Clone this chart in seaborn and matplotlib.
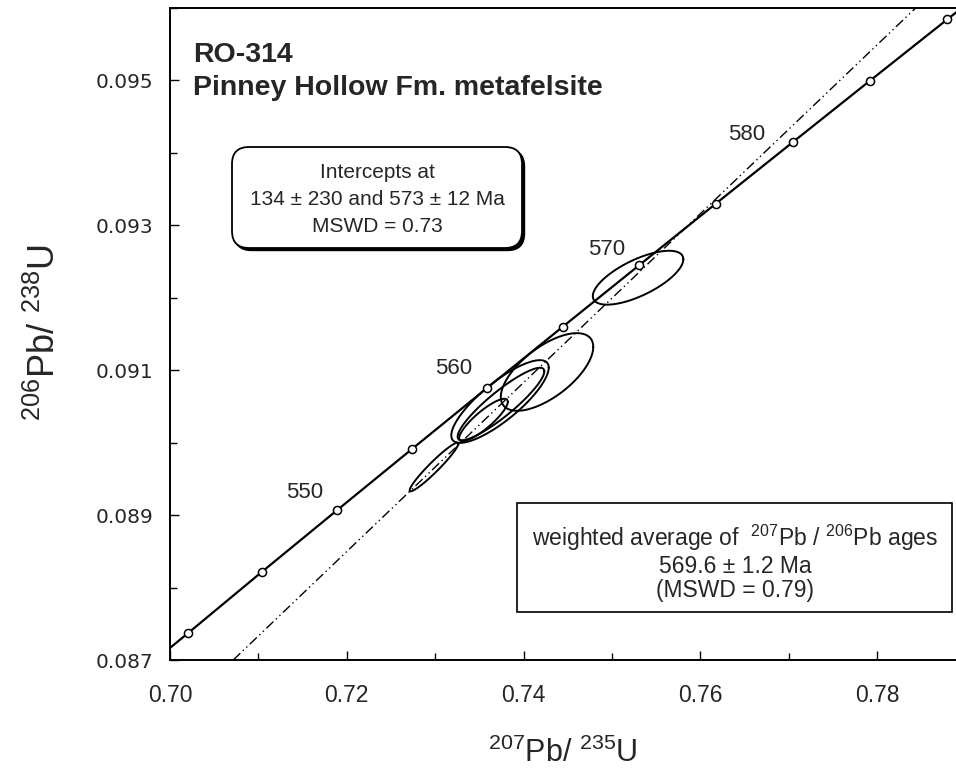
import numpy as np
import pandas as pd
import matplotlib
matplotlib.use("Agg")
import matplotlib.pyplot as plt
import seaborn as sns
from matplotlib.patches import FancyBboxPatch, Rectangle
from matplotlib.ticker import MultipleLocator, FixedFormatter, FixedLocator

# ---------------- data ----------------
# concordia points (age in Ma, 207Pb/235U, 206Pb/238U)
conc_age = [535, 540, 545, 550, 555, 560, 565, 570, 575, 580, 585, 590, 595]
conc_x = [0.69367, 0.70209, 0.71043, 0.71887, 0.72735, 0.73588, 0.74445,
          0.75307, 0.76172, 0.77042, 0.77916, 0.78794, 0.79678]
conc_y = [0.086533, 0.087376, 0.088220, 0.089065, 0.089910, 0.090756, 0.091602,
          0.092449, 0.093297, 0.094145, 0.094994, 0.095844, 0.096695]
label_ages = [550, 560, 570, 580]

# discordia through lower / upper intercepts (134 Ma, 573 Ma)
disc_age = [134, 573]
disc_x = [0.14107, 0.75825]
disc_y = [0.021005, 0.092957]

# analyses: error ellipses (centre, half-extent x, half-extent y, error correlation)
ell_x = [0.75295, 0.74265, 0.73733, 0.73744, 0.73546, 0.72986]
ell_ex = [0.005122, 0.005230, 0.005511, 0.004900, 0.002752, 0.002749]
ell_y = [0.092277, 0.090976, 0.090568, 0.090534, 0.090313, 0.089664]
ell_ey = [0.000372, 0.000536, 0.000571, 0.000500, 0.000293, 0.000335]
ell_rho = [0.683, 0.644, 0.818, 0.900, 0.860, 0.958]

x_ticks = [0.70, 0.72, 0.74, 0.76, 0.78]
x_ticklabels = ["0.70", "0.72", "0.74", "0.76", "0.78"]
y_ticks = [0.087, 0.089, 0.091, 0.093, 0.095]
y_ticklabels = ["0.087", "0.089", "0.091", "0.093", "0.095"]

# ---------------- style ----------------
sns.set_theme(style="white")
plt.rcParams['font.family'] = ['Liberation Sans', 'DejaVu Sans']
plt.rcParams['mathtext.fontset'] = 'custom'
plt.rcParams['mathtext.rm'] = 'Liberation Sans'
plt.rcParams['mathtext.it'] = 'Liberation Sans:italic'
plt.rcParams['mathtext.bf'] = 'Liberation Sans:bold'

W, H = 956, 770
fig = plt.figure(figsize=(W / 100, H / 100), dpi=100)
ax = fig.add_axes([170 / W, (H - 660) / H, (W - 170) / W, 652 / H])

def pin(x, y):
    return x / 100.0, (H - y) / 100.0

# ellipses
t = np.linspace(0, 2 * np.pi, 241)
rows = []
for i, (cx, ex, cy, ey, r) in enumerate(zip(ell_x, ell_ex, ell_y, ell_ey, ell_rho)):
    xs = cx + ex * np.cos(t)
    ys = cy + ey * (r * np.cos(t) + np.sqrt(1 - r * r) * np.sin(t))
    rows.append(pd.DataFrame({"id": i, "x": xs, "y": ys}))
ell_df = pd.concat(rows, ignore_index=True)
sns.lineplot(data=ell_df, x="x", y="y", units="id", estimator=None, sort=False,
             color="black", lw=1.4, ax=ax, legend=False, zorder=3)

# discordia
ax.axline((disc_x[0], disc_y[0]), (disc_x[1], disc_y[1]), color="black", lw=1.0,
          linestyle=(0, (7, 2.5, 1, 2.5, 1, 2.5)), zorder=2)

# concordia
conc_df = pd.DataFrame({"age": conc_age, "x": conc_x, "y": conc_y})
sns.lineplot(data=conc_df, x="x", y="y", sort=False, color="black", lw=1.6, ax=ax,
             zorder=4)
sns.scatterplot(data=conc_df, x="x", y="y", marker="o", s=34, facecolor="white",
                edgecolor="black", linewidth=1.1, ax=ax, zorder=5)

label_offsets = {550: (-23.5, 13), 560: (-24, 14), 570: (-23.5, 11.5), 580: (-33, 5.5)}
for a in label_ages:
    i = conc_age.index(a)
    ax.annotate(str(a), (conc_x[i], conc_y[i]), xytext=label_offsets[a],
                textcoords="offset points", ha="center", va="center", fontsize=16)

# axes
ax.set_xlim(0.70, 0.70 + 786 / 8840)
ax.set_ylim(0.087, 0.096)
ax.xaxis.set_major_locator(FixedLocator(x_ticks))
ax.xaxis.set_major_formatter(FixedFormatter(x_ticklabels))
ax.xaxis.set_minor_locator(MultipleLocator(0.01))
ax.yaxis.set_major_locator(FixedLocator(y_ticks))
ax.yaxis.set_major_formatter(FixedFormatter(y_ticklabels))
ax.yaxis.set_minor_locator(MultipleLocator(0.001))
ax.tick_params(axis="both", which="both", direction="in", color="black",
               bottom=True, left=True, top=False, right=False, width=1.0)
ax.tick_params(axis="both", which="major", length=6.5)
ax.tick_params(axis="both", which="minor", length=5)
ax.tick_params(axis="x", which="major", labelsize=16.5, pad=17)
ax.tick_params(axis="y", which="major", labelsize=14.5, pad=12)
for lab in ax.get_yticklabels():
    lab.set_fontfamily("DejaVu Sans")
ax.set_xlabel("")
ax.set_ylabel("")
for s in ["left", "top", "bottom"]:
    ax.spines[s].set_color("black")
    ax.spines[s].set_linewidth(1.4)
ax.spines["right"].set_visible(False)

# axis titles
fig.text(563 / W, (H - 762) / H, r"$^{207}$Pb/ $^{235}$U", fontsize=22,
         ha="center", va="baseline")
fig.text(55 / W, (H - 333) / H, r"$^{206}$Pb/ $^{238}$U", fontsize=26,
         ha="center", va="baseline", rotation=90, rotation_mode="anchor")

# sample title
ax.text(*pin(193, 62), "RO-314", transform=fig.dpi_scale_trans, fontsize=20.5,
        fontweight="bold", ha="left", va="baseline")
ax.text(*pin(193, 95), "Pinney Hollow Fm. metafelsite", transform=fig.dpi_scale_trans,
        fontsize=20.5, fontweight="bold", ha="left", va="baseline")

# intercept box (rounded, with shadow)
bx0, by0 = pin(232, 248)
bw, bh = (522 - 232) / 100, (248 - 147) / 100
shadow = FancyBboxPatch((bx0 + 0.025, by0 - 0.025), bw, bh,
                        boxstyle="round,pad=0,rounding_size=0.17",
                        transform=fig.dpi_scale_trans, fc="black", ec="black",
                        lw=1.0, zorder=6, clip_on=False)
box = FancyBboxPatch((bx0, by0), bw, bh, boxstyle="round,pad=0,rounding_size=0.17",
                     transform=fig.dpi_scale_trans, fc="white", ec="black",
                     lw=1.3, zorder=7, clip_on=False)
ax.add_patch(shadow)
ax.add_patch(box)
for txt, yb in [("Intercepts at", 178), ("134 \u00b1 230 and 573 \u00b1 12 Ma", 205),
                ("MSWD = 0.73", 232)]:
    ax.text(*pin(377, yb), txt, transform=fig.dpi_scale_trans, fontsize=15,
            ha="center", va="baseline", zorder=8)

# weighted average box
rx0, ry0 = pin(517, 612)
rect = Rectangle((rx0, ry0), (952 - 517) / 100, (612 - 503) / 100,
                 transform=fig.dpi_scale_trans, fc="white", ec="black", lw=1.2,
                 zorder=6, clip_on=False)
ax.add_patch(rect)
for txt, yb in [(r"weighted average of  $^{207}$Pb / $^{206}$Pb ages", 546),
                ("569.6 \u00b1 1.2 Ma", 573),
                ("(MSWD = 0.79)", 597)]:
    ax.text(*pin(735, yb), txt, transform=fig.dpi_scale_trans, fontsize=16.5,
            ha="center", va="baseline", zorder=8)

fig.savefig("out.png", dpi=100)
